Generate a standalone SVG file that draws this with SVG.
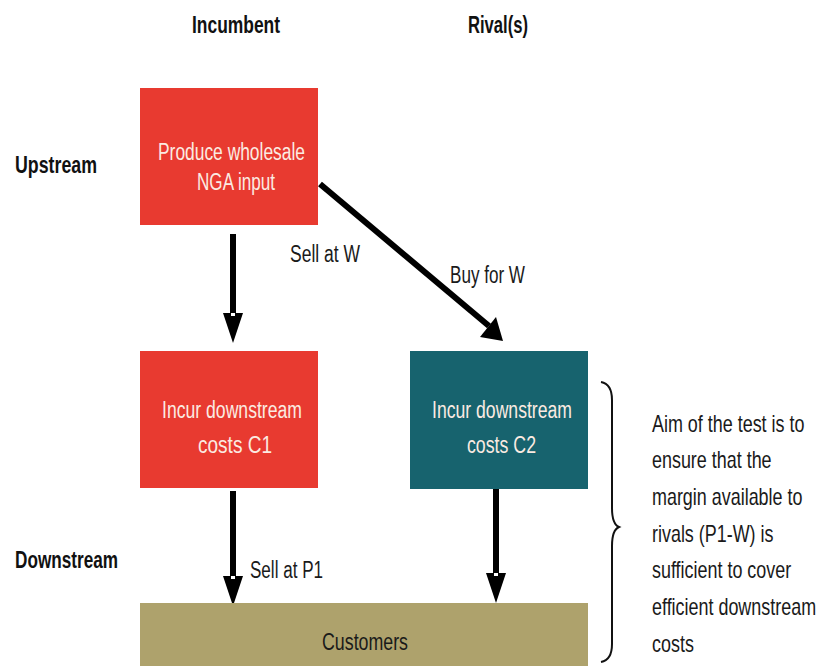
<svg xmlns="http://www.w3.org/2000/svg" width="819" height="666" viewBox="0 0 819 666">
<defs>
<style>
text{font-family:"Liberation Sans",Arial,sans-serif;font-size:23px;}
.hdr{font-weight:bold;fill:#111;font-size:24px;}
.lbl{fill:#1a1a1a;}
.box{fill:#fbebe2;}
.red{fill:#e83a30;}
.teal{fill:#17636e;}
.cust{fill:#aea26c;}
.arr{stroke:#000;stroke-width:6;fill:none;}
.head{fill:#000;}
.notch{fill:#fff;}
</style>
</defs>
<rect width="819" height="666" fill="#fff"/>
<g id="headers">
<text class="hdr" x="192" y="33" textLength="88" lengthAdjust="spacingAndGlyphs">Incumbent</text>
<text class="hdr" x="468" y="33" textLength="60" lengthAdjust="spacingAndGlyphs">Rival(s)</text>
<text class="hdr" x="15" y="173" textLength="82" lengthAdjust="spacingAndGlyphs">Upstream</text>
<text class="hdr" x="15" y="568" textLength="103" lengthAdjust="spacingAndGlyphs">Downstream</text>
</g>
<g id="connectors">
<line class="arr" x1="233" y1="234" x2="233" y2="316"/>
<path class="head" d="M223,313 L243,313 L233,343 Z"/>
<rect class="notch" x="231" y="313" width="4" height="3"/>
<line class="arr" x1="320" y1="184" x2="489" y2="326" stroke-width="9"/>
<path class="head" d="M480,337 L496,317 L503,341 Z"/>
<line class="arr" x1="233" y1="491" x2="233" y2="578"/>
<path class="head" d="M223,576 L243,576 L233,606 Z"/>
<rect class="notch" x="231" y="576" width="4" height="3"/>
<line class="arr" x1="496" y1="489" x2="496" y2="575"/>
<path class="head" d="M486,573 L506,573 L496,603 Z"/>
<rect class="notch" x="494" y="573" width="4" height="3"/>
</g>
<g id="produce">
<rect class="red" x="140" y="88" width="178" height="137"/>
<text class="box" x="158" y="160" textLength="147" lengthAdjust="spacingAndGlyphs">Produce wholesale</text>
<text class="box" x="197" y="190" textLength="78" lengthAdjust="spacingAndGlyphs">NGA input</text>
</g>
<g id="incur-c1">
<rect class="red" x="140" y="351" width="178" height="137"/>
<text class="box" x="162" y="418" textLength="140" lengthAdjust="spacingAndGlyphs">Incur downstream</text>
<text class="box" x="198" y="453" textLength="74" lengthAdjust="spacingAndGlyphs">costs  C1</text>
</g>
<g id="incur-c2">
<rect class="teal" x="410" y="351" width="178" height="138"/>
<text class="box" x="432" y="418" textLength="140" lengthAdjust="spacingAndGlyphs">Incur downstream</text>
<text class="box" x="467" y="453" textLength="69" lengthAdjust="spacingAndGlyphs">costs C2</text>
</g>
<g id="customers">
<rect class="cust" x="140" y="603" width="448" height="63"/>
<text class="lbl" x="322" y="650" textLength="86" lengthAdjust="spacingAndGlyphs">Customers</text>
</g>
<g id="labels">
<text class="lbl" x="290" y="262" textLength="70" lengthAdjust="spacingAndGlyphs">Sell at W</text>
<text class="lbl" x="450" y="283" textLength="75" lengthAdjust="spacingAndGlyphs">Buy for W</text>
<text class="lbl" x="250" y="578" textLength="73" lengthAdjust="spacingAndGlyphs">Sell at P1</text>
</g>
<g id="brace">
<path d="M601,382 Q612,384 612,400 L612,508 Q612,524 619,527 Q612,530 612,546 L612,644 Q612,660 601,662" fill="none" stroke="#111" stroke-width="2"/>
</g>
<g id="note" class="lbl" transform="translate(652 0) scale(0.78 1)">
<text x="0" y="432">Aim of the test is to</text>
<text x="0" y="468">ensure that the</text>
<text x="0" y="505">margin available to</text>
<text x="0" y="542">rivals (P1-W) is</text>
<text x="0" y="578">sufficient to cover</text>
<text x="0" y="615">efficient downstream</text>
<text x="0" y="652">costs</text>
</g>
</svg>
